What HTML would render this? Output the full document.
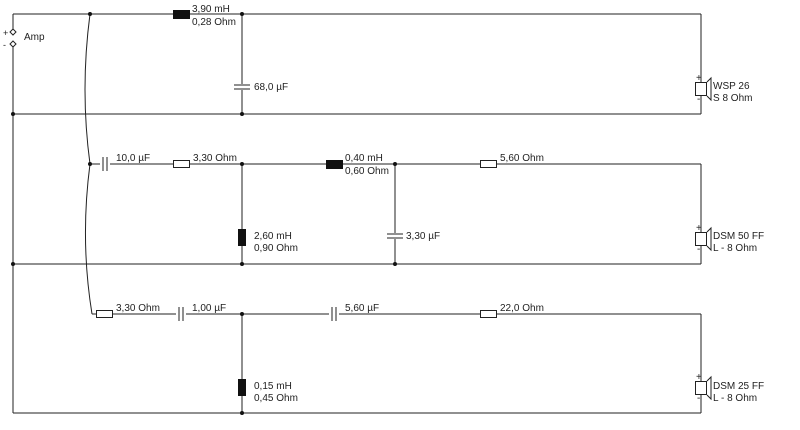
<!DOCTYPE html>
<html><head><meta charset="utf-8"><style>
html,body{margin:0;padding:0;background:#fff;width:800px;height:430px;overflow:hidden}
svg{display:block}
text{font-family:"Liberation Sans",Arial,sans-serif;font-size:10px;fill:#222}
</style></head><body>
<svg width="800" height="430" viewBox="0 0 800 430" xmlns="http://www.w3.org/2000/svg">
<g stroke="#222" stroke-width="1" fill="none">
<!-- left rail -->
<line x1="13" y1="14" x2="13" y2="31"/>
<line x1="13" y1="46" x2="13" y2="413"/>
<!-- horizontal wires -->
<line x1="13" y1="14" x2="701" y2="14"/>
<line x1="13" y1="114" x2="701" y2="114"/>
<line x1="90" y1="164" x2="701" y2="164"/>
<line x1="13" y1="264" x2="701" y2="264"/>
<line x1="92" y1="314" x2="701" y2="314"/>
<line x1="13" y1="413" x2="701" y2="413"/>
<!-- right verticals -->
<line x1="701" y1="14" x2="701" y2="114"/>
<line x1="701" y1="164" x2="701" y2="264"/>
<line x1="701" y1="314" x2="701" y2="413"/>
<!-- curved feed -->
<path d="M90,14 Q80,90 90,164 Q80,240 92,314"/>
<!-- shunt branches -->
<line x1="242" y1="14" x2="242" y2="114"/>
<line x1="242" y1="164" x2="242" y2="264"/>
<line x1="395" y1="164" x2="395" y2="264"/>
<line x1="242" y1="314" x2="242" y2="413"/>
</g>
<!-- amp terminals -->
<g stroke="#222" fill="#fff">
<path d="M13,29 l3,3 l-3,3 l-3,-3z"/>
<path d="M13,41 l3,3 l-3,3 l-3,-3z"/>
</g>
<text x="3" y="36" style="font-size:9px">+</text>
<text x="3" y="48" style="font-size:9px">-</text>
<text x="24" y="40">Amp</text>
<!-- nodes -->
<g fill="#111">
<circle cx="90" cy="14" r="2"/><circle cx="242" cy="14" r="2"/>
<circle cx="13" cy="114" r="2"/><circle cx="242" cy="114" r="2"/>
<circle cx="90" cy="164" r="2"/><circle cx="242" cy="164" r="2"/><circle cx="395" cy="164" r="2"/>
<circle cx="13" cy="264" r="2"/><circle cx="242" cy="264" r="2"/><circle cx="395" cy="264" r="2"/>
<circle cx="242" cy="314" r="2"/><circle cx="242" cy="413" r="2"/>
</g>
<!-- inductors -->
<g fill="#111">
<rect x="173" y="10" width="17" height="9"/>
<rect x="326" y="160" width="17" height="9"/>
<rect x="238" y="229" width="8" height="17"/>
<rect x="238" y="379" width="8" height="17"/>
</g>
<!-- resistors -->
<g fill="#fff" stroke="#222">
<rect x="173.5" y="160.5" width="16" height="7"/>
<rect x="480.5" y="160.5" width="16" height="7"/>
<rect x="96.5" y="310.5" width="16" height="7"/>
<rect x="480.5" y="310.5" width="16" height="7"/>
</g>
<!-- capacitors: horizontal-wire caps -->
<g stroke="#222" stroke-width="1">
<rect x="100" y="157" width="10" height="14" fill="#fff" stroke="none"/>
<line x1="103" y1="157" x2="103" y2="171"/><line x1="107" y1="157" x2="107" y2="171"/>
<rect x="176" y="307" width="10" height="14" fill="#fff" stroke="none"/>
<line x1="179" y1="307" x2="179" y2="321"/><line x1="183" y1="307" x2="183" y2="321"/>
<rect x="329" y="307" width="10" height="14" fill="#fff" stroke="none"/>
<line x1="332" y1="307" x2="332" y2="321"/><line x1="336" y1="307" x2="336" y2="321"/>
<!-- vertical caps -->
<rect x="234" y="84" width="16" height="6" fill="#fff" stroke="none"/>
<line x1="234" y1="85" x2="250" y2="85"/><line x1="234" y1="89" x2="250" y2="89"/>
<rect x="387" y="233" width="16" height="6" fill="#fff" stroke="none"/>
<line x1="387" y1="234" x2="403" y2="234"/><line x1="387" y1="238" x2="403" y2="238"/>
</g>
<!-- speakers -->
<g stroke="#222" fill="#fff">
<rect x="695.5" y="82.5" width="11" height="13"/>
<path d="M707,82 L711,78 L711,100 L707,96" fill="none"/>
<rect x="695.5" y="232.5" width="11" height="13"/>
<path d="M707,232 L711,228 L711,250 L707,246" fill="none"/>
<rect x="695.5" y="381.5" width="11" height="13"/>
<path d="M707,381 L711,377 L711,399 L707,395" fill="none"/>
</g>
<g style="font-size:8px">
<text x="696" y="81">+</text><text x="697" y="102">-</text>
<text x="696" y="231">+</text><text x="697" y="252">-</text>
<text x="696" y="380">+</text><text x="697" y="401">-</text>
</g>
<!-- labels -->
<text x="192" y="12">3,90 mH</text>
<text x="192" y="25">0,28 Ohm</text>
<text x="254" y="90">68,0 µF</text>
<text x="713" y="89">WSP 26</text>
<text x="713" y="101">S 8 Ohm</text>
<text x="116" y="161">10,0 µF</text>
<text x="193" y="161">3,30 Ohm</text>
<text x="345" y="161">0,40 mH</text>
<text x="345" y="174">0,60 Ohm</text>
<text x="500" y="161">5,60 Ohm</text>
<text x="254" y="239">2,60 mH</text>
<text x="254" y="251">0,90 Ohm</text>
<text x="406" y="239">3,30 µF</text>
<text x="713" y="239">DSM 50 FF</text>
<text x="713" y="251">L - 8 Ohm</text>
<text x="116" y="311">3,30 Ohm</text>
<text x="192" y="311">1,00 µF</text>
<text x="345" y="311">5,60 µF</text>
<text x="500" y="311">22,0 Ohm</text>
<text x="254" y="389">0,15 mH</text>
<text x="254" y="401">0,45 Ohm</text>
<text x="713" y="389">DSM 25 FF</text>
<text x="713" y="401">L - 8 Ohm</text>
</svg>
</body></html>
